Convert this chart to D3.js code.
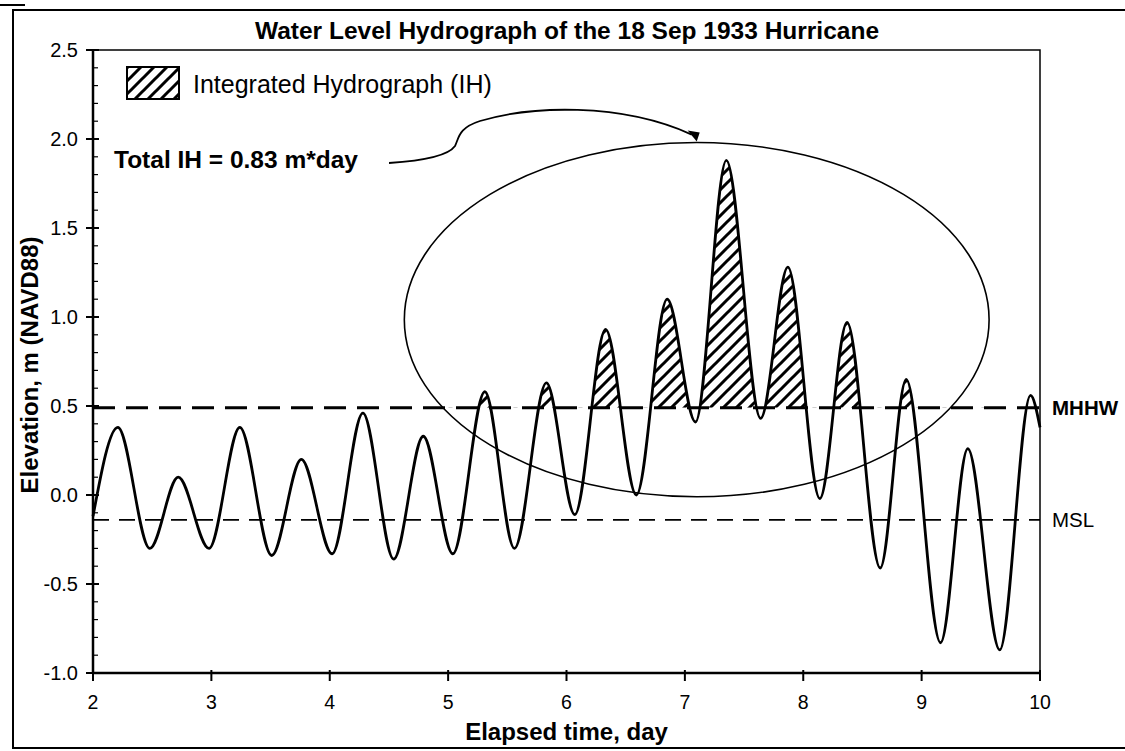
<!DOCTYPE html>
<html>
<head>
<meta charset="utf-8">
<script src="https://cdn.jsdelivr.net/npm/d3@7"></script>
<style>
  body { margin: 0; background: #fff; }
  svg { display: block; font-family: "Liberation Sans", Arial, sans-serif; }
</style>
</head>
<body>
<svg id="chart" width="1125" height="751"></svg>
<script>
const tideTime  = [2.00, 2.21, 2.48, 2.72, 2.98, 3.24, 3.51, 3.76, 4.02, 4.28, 4.54, 4.79, 5.04, 5.31, 5.56, 5.83,
                   6.07, 6.33, 6.59, 6.85, 7.09, 7.35, 7.64, 7.87, 8.14, 8.37, 8.65, 8.87, 9.16, 9.39, 9.66, 9.92, 10.0];
const tideLevel = [-0.12, 0.38, -0.30, 0.10, -0.30, 0.38, -0.34, 0.20, -0.33, 0.46, -0.36, 0.33, -0.33, 0.58, -0.30, 0.63,
                   -0.11, 0.93, 0.00, 1.10, 0.41, 1.88, 0.43, 1.28, -0.02, 0.97, -0.41, 0.65, -0.83, 0.26, -0.87, 0.56, 0.38];

const datumNames  = ["MHHW", "MSL"];
const datumLevels = [0.49, -0.14];

const xTicks = [2, 3, 4, 5, 6, 7, 8, 9, 10];
const yTicks = [-1.0, -0.5, 0.0, 0.5, 1.0, 1.5, 2.0, 2.5];

const surgeWindow = [5.0, 9.6];          // peaks that get hatched
const circleCenter = [7.10, 0.985];      // the hand drawn ellipse, day / m
const circleRadius = [2.47, 0.995];
const totalIH = 0.83;

const svg = d3.select("#chart");
const plotLeft = 93, plotRight = 1040, plotTop = 50, plotBottom = 673;

const x = d3.scaleLinear().domain([2, 10]).range([plotLeft, plotRight]);
const y = d3.scaleLinear().domain([-1, 2.5]).range([plotBottom, plotTop]);

const data = tideTime.map((t, i) => ({ t: t, v: tideLevel[i] }));

// hatch pattern
const defs = svg.append("defs");
const pat = defs.append("pattern")
  .attr("id", "hatch")
  .attr("patternUnits", "userSpaceOnUse")
  .attr("width", 13).attr("height", 13);
pat.append("rect").attr("width", 13).attr("height", 13).attr("fill", "#fff");
pat.append("path")
  .attr("d", "M-3,3 l6,-6 M0,13 l13,-13 M10,16 l6,-6")
  .attr("stroke", "#000").attr("stroke-width", 3);

defs.append("clipPath").attr("id", "aboveMHHW")
  .append("rect")
  .attr("x", x(surgeWindow[0])).attr("y", plotTop)
  .attr("width", x(surgeWindow[1]) - x(surgeWindow[0]))
  .attr("height", y(datumLevels[0]) - plotTop);

// outer frame of the scanned figure
svg.append("path")
  .attr("d", `M1125,10 H13 V748 H1125`)
  .attr("fill", "none").attr("stroke", "#000").attr("stroke-width", 2);
svg.append("line")
  .attr("x1", 0).attr("x2", 25).attr("y1", 5).attr("y2", 5)
  .attr("stroke", "#000").attr("stroke-width", 2);

// title
svg.append("text")
  .attr("x", 567).attr("y", 39)
  .attr("text-anchor", "middle")
  .attr("font-size", 24.5).attr("font-weight", "bold")
  .text("Water Level Hydrograph of the 18 Sep 1933 Hurricane");

// plot box top/right
svg.append("path")
  .attr("d", `M${plotLeft},${plotTop} H${plotRight} V${plotBottom}`)
  .attr("fill", "none").attr("stroke", "#000").attr("stroke-width", 1.5);

// y axis
const yAxis = svg.append("g").attr("transform", `translate(${plotLeft},0)`);
yAxis.append("line").attr("x1", 0).attr("x2", 0).attr("y1", plotTop).attr("y2", plotBottom)
  .attr("stroke", "#000").attr("stroke-width", 2.5);
yAxis.selectAll(".minor").data(d3.range(-10, 26).map(d => d / 10))
  .join("line")
  .attr("x1", 0).attr("x2", 5)
  .attr("y1", d => y(d)).attr("y2", d => y(d))
  .attr("stroke", "#000").attr("stroke-width", 1.2);
yAxis.selectAll(".major").data(yTicks)
  .join("line")
  .attr("x1", -7).attr("x2", 6)
  .attr("y1", d => y(d)).attr("y2", d => y(d))
  .attr("stroke", "#000").attr("stroke-width", 2);
yAxis.selectAll("text").data(yTicks)
  .join("text")
  .attr("x", -15).attr("y", d => y(d))
  .attr("dy", "0.35em")
  .attr("text-anchor", "end")
  .attr("font-size", 20)
  .text(d => d.toFixed(1));

svg.append("text")
  .attr("transform", "translate(38,365) rotate(-90)")
  .attr("text-anchor", "middle")
  .attr("font-size", 24).attr("font-weight", "bold")
  .text("Elevation, m (NAVD88)");

// x axis
const xAxis = svg.append("g").attr("transform", `translate(0,${plotBottom})`);
xAxis.append("line").attr("x1", plotLeft).attr("x2", plotRight)
  .attr("stroke", "#000").attr("stroke-width", 2.5);
xAxis.selectAll(".major").data(xTicks)
  .join("line")
  .attr("x1", d => x(d)).attr("x2", d => x(d))
  .attr("y1", -3).attr("y2", 8)
  .attr("stroke", "#000").attr("stroke-width", 2);
xAxis.selectAll("text").data(xTicks)
  .join("text")
  .attr("x", d => x(d)).attr("y", 36)
  .attr("text-anchor", "middle")
  .attr("font-size", 19.5)
  .text(d => d);

svg.append("text")
  .attr("x", (plotLeft + plotRight) / 2).attr("y", 740)
  .attr("text-anchor", "middle")
  .attr("font-size", 24).attr("font-weight", "bold")
  .text("Elapsed time, day");

// hatched integrated hydrograph
const area = d3.area()
  .x(d => x(d.t))
  .y0(y(datumLevels[0]))
  .y1(d => y(d.v))
  .curve(d3.curveMonotoneX);
svg.append("path")
  .datum(data)
  .attr("d", area)
  .attr("clip-path", "url(#aboveMHHW)")
  .attr("fill", "url(#hatch)");

// datum lines
svg.append("line")
  .attr("x1", plotLeft).attr("x2", plotRight)
  .attr("y1", y(datumLevels[0])).attr("y2", y(datumLevels[0]))
  .attr("stroke", "#000").attr("stroke-width", 3)
  .attr("stroke-dasharray", "22,11");
svg.append("line")
  .attr("x1", plotLeft).attr("x2", plotRight)
  .attr("y1", y(datumLevels[1])).attr("y2", y(datumLevels[1]))
  .attr("stroke", "#000").attr("stroke-width", 1.6)
  .attr("stroke-dasharray", "16,10");

svg.selectAll(".datumLabel").data(datumNames)
  .join("text")
  .attr("x", plotRight + 12)
  .attr("y", (d, i) => y(datumLevels[i]))
  .attr("dy", "0.35em")
  .attr("font-size", 20.5)
  .attr("font-weight", (d, i) => i === 0 ? "bold" : "normal")
  .text(d => d);

// water level curve
const line = d3.line()
  .x(d => x(d.t))
  .y(d => y(d.v))
  .curve(d3.curveMonotoneX);
svg.append("path")
  .datum(data)
  .attr("d", line)
  .attr("fill", "none")
  .attr("stroke", "#000").attr("stroke-width", 2.8)
  .attr("stroke-linejoin", "round");

// ellipse around the surge
const cx = x(circleCenter[0]), cy = y(circleCenter[1]);
const ry = cy - y(circleCenter[1] + circleRadius[1]);
svg.append("ellipse")
  .attr("cx", cx).attr("cy", cy)
  .attr("rx", x(circleCenter[0] + circleRadius[0]) - cx)
  .attr("ry", ry)
  .attr("fill", "none").attr("stroke", "#000").attr("stroke-width", 1.6);

// legend
svg.append("rect")
  .attr("x", 127).attr("y", 67).attr("width", 52).attr("height", 32)
  .attr("fill", "url(#hatch)").attr("stroke", "#000").attr("stroke-width", 2);
svg.append("text")
  .attr("x", 193).attr("y", 93)
  .attr("font-size", 25)
  .text("Integrated Hydrograph (IH)");

// total IH note with leader arrow
svg.append("text")
  .attr("x", 114).attr("y", 168)
  .attr("font-size", 24.5).attr("font-weight", "bold")
  .text(`Total IH = ${totalIH} m*day`);

const tipX = cx, tipY = cy - ry - 2;
svg.append("path")
  .attr("d", `M389,163 C420,161 448,156 455,146 C459,138 458,128 480,121 C530,106 620,102 ${tipX - 5},${tipY - 6}`)
  .attr("fill", "none").attr("stroke", "#000").attr("stroke-width", 1.8);
svg.append("path")
  .attr("d", `M${tipX - 9},${tipY - 10} L${tipX + 3},${tipY - 8} L${tipX},${tipY + 1} Z`)
  .attr("fill", "#000");
</script>
</body>
</html>
